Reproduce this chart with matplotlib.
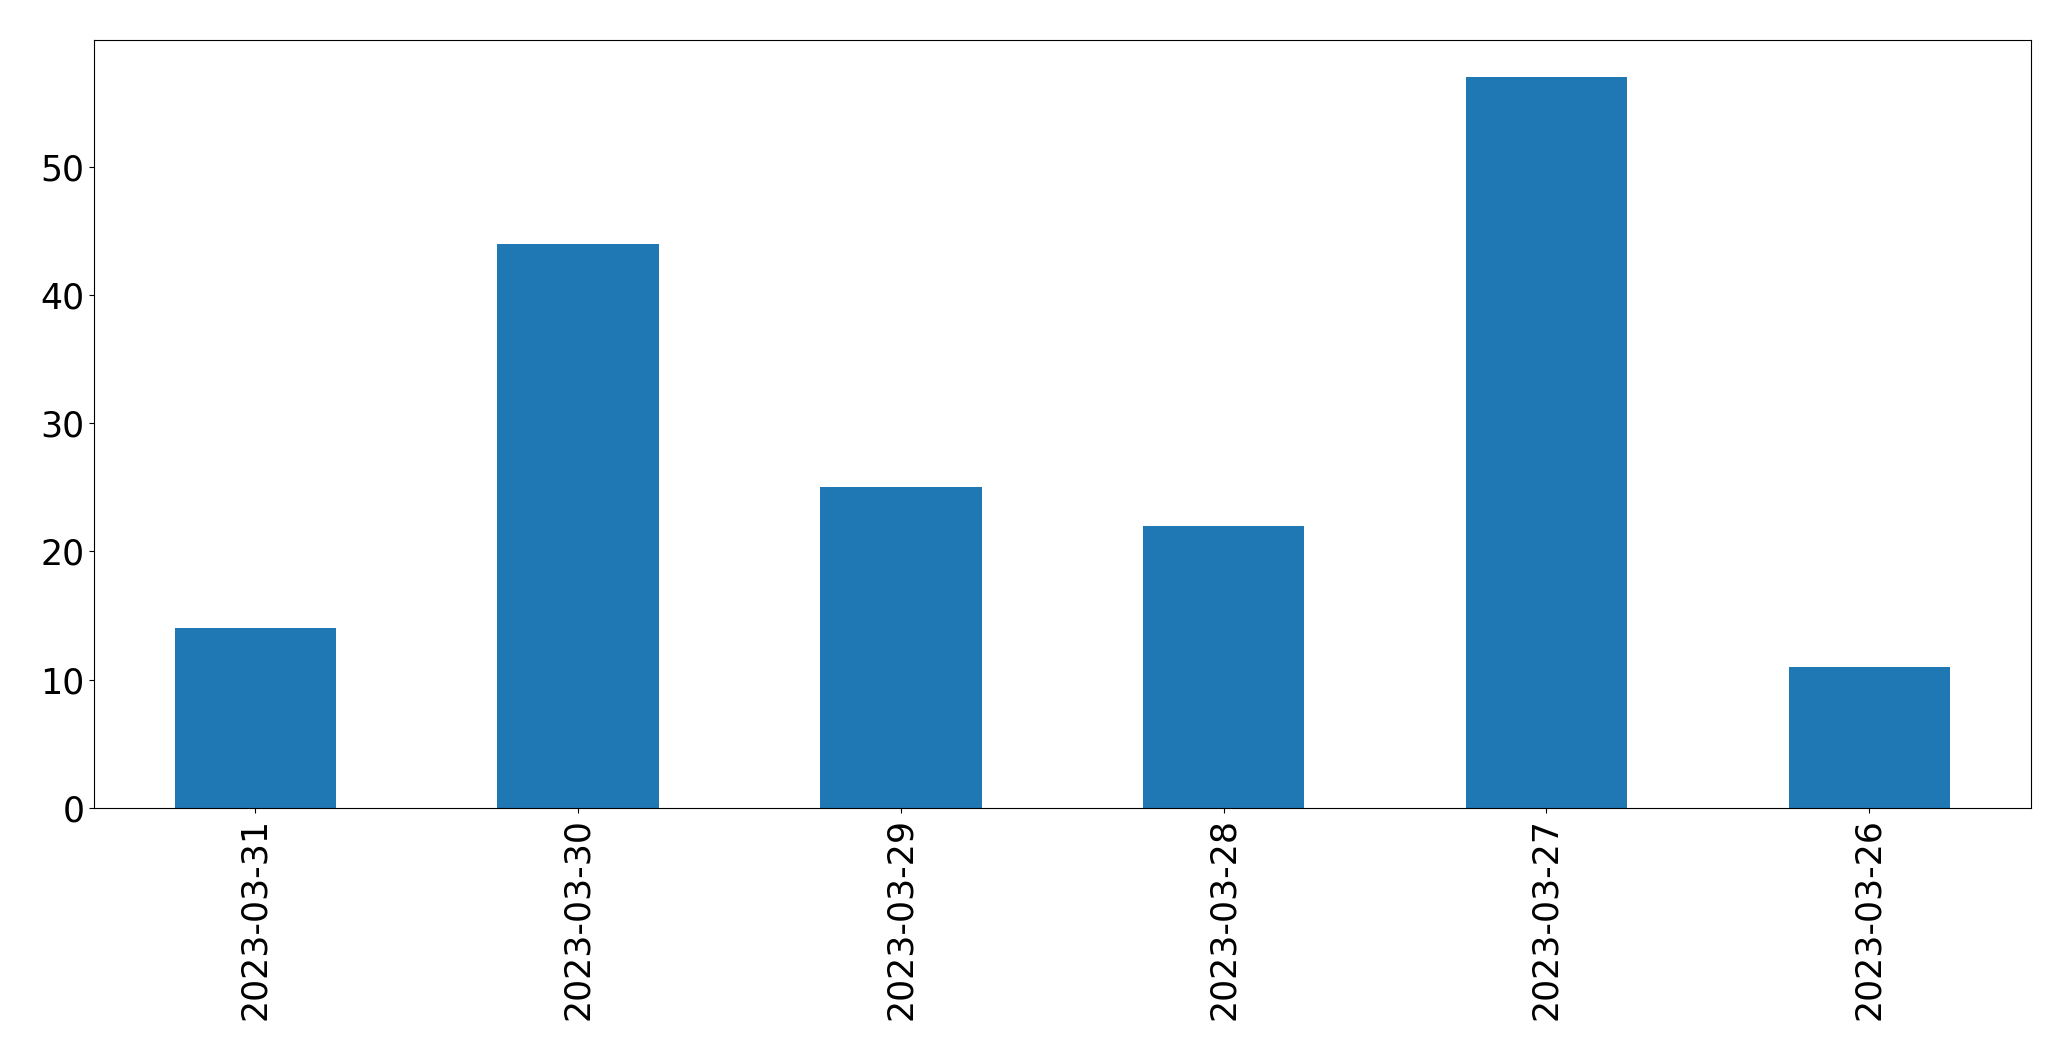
import matplotlib
matplotlib.use("Agg")
import matplotlib.pyplot as plt
import pandas as pd

dates = ["2023-03-31", "2023-03-30", "2023-03-29", "2023-03-28", "2023-03-27", "2023-03-26"]
counts = [14, 44, 25, 22, 57, 11]

s = pd.Series(counts, index=dates)

fig, ax = plt.subplots(figsize=(20.71, 10.61), dpi=100)
s.plot(kind="bar", ax=ax, color="#1f77b4")
ax.tick_params(axis="both", labelsize=25)
fig.subplots_adjust(left=0.0454, right=0.9805, top=0.962, bottom=0.2385)
fig.savefig("out.png", dpi=100)
